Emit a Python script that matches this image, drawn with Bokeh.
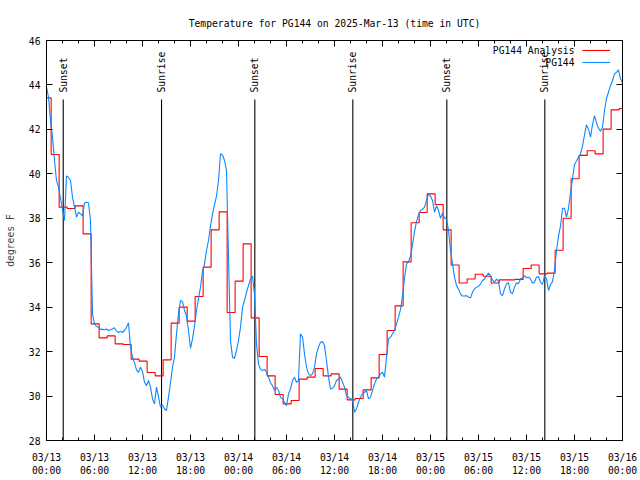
import numpy as np
from bokeh.plotting import figure
from bokeh.models import (FixedTicker, LinearAxis, Range1d, Legend, LegendItem, Label)
from bokeh.embed import file_html
from bokeh.resources import INLINE
from bokeh.core.properties import value

FONT = "DejaVu Sans Mono"
FS = "9.7px"

# PG144 observations, every 15 min from 03/13 00:00 UTC (degrees F)
pg144_obs = [
    43.9, 43.45, 42.4, 41.65,
    40.6, 39.7, 39.4, 38.9,
    38.4, 37.9, 39.9, 39.85,
    39.7, 38.95, 38.5, 38.05,
    38.27, 38.2, 38.1, 38.68,
    38.72, 38.7, 37.9, 33.7,
    33.25, 33.13, 33.1, 33.0,
    33.0, 32.98, 33.02, 32.95,
    32.98, 33.02, 33.07, 32.92,
    32.86, 32.92, 32.86, 32.95,
    33.1, 33.3, 32.2, 31.75,
    31.5, 31.18, 31.07, 31.3,
    31.1, 30.62, 30.47, 30.7,
    30.4, 29.87, 29.65, 30.4,
    29.95, 29.5, 29.6, 29.43,
    29.35, 29.95, 30.6, 31.3,
    31.75, 32.8, 33.7, 34.3,
    34.25, 33.85, 33.6, 32.95,
    32.15, 32.57, 33.15, 33.85,
    34.4, 34.9, 35.6, 35.95,
    36.55, 37.0, 37.65, 38.2,
    38.6, 39.0, 39.7, 40.9,
    40.85, 40.6, 40.15, 36.25,
    32.5, 31.75, 31.7, 32.05,
    32.5, 33.1, 34.0, 34.3,
    34.67, 34.97, 35.27, 35.4,
    34.6, 32.35, 31.45, 31.2,
    31.15, 31.2, 31.07, 30.85,
    30.6, 30.47, 30.25, 30.4,
    30.25, 29.95, 29.87, 29.72,
    29.57, 30.1, 30.32, 30.7,
    30.85, 30.62, 30.7, 32.8,
    32.65, 31.9, 31.3, 31.0,
    30.92, 31.0, 31.3, 31.9,
    32.2, 32.42, 32.45, 32.27,
    31.6, 30.85, 30.32, 30.35,
    30.47, 30.7, 30.77, 30.85,
    30.62, 30.4, 30.02, 29.95,
    29.87, 29.87, 29.27, 29.42,
    29.72, 29.95, 30.1, 30.17,
    30.25, 29.87, 29.95, 30.25,
    30.55, 30.77, 30.85, 31.0,
    31.07, 30.85, 31.75, 32.57,
    32.65, 32.8, 32.95, 33.25,
    33.55, 33.9, 34.5, 35.3,
    35.95, 36.05, 36.3, 36.8,
    37.4, 37.85, 38.15, 38.35,
    38.4, 38.5, 38.8, 39.1,
    39.0, 38.8, 38.27, 38.57,
    38.35, 38.0, 38.23, 38.0,
    37.97, 37.45, 36.55, 35.95,
    35.35, 34.97, 34.82, 34.6,
    34.5, 34.5, 34.52, 34.45,
    34.42, 34.67, 34.82, 34.9,
    34.93, 35.05, 35.2, 35.27,
    35.42, 35.53, 35.42, 35.23,
    35.12, 35.26, 35.17, 34.6,
    34.52, 34.82, 35.05, 35.1,
    34.67, 34.6, 34.9, 35.1,
    35.05, 35.27, 35.32, 35.42,
    35.32, 35.35, 35.27, 35.08,
    35.12, 35.35, 35.38, 35.12,
    35.02, 35.42, 35.27, 34.75,
    35.02, 35.15, 35.68, 36.55,
    37.2, 37.65, 38.45, 38.45,
    38.05, 38.45, 39.15, 39.77,
    40.42, 40.58, 40.75, 40.9,
    41.25, 41.75, 42.2, 42.0,
    41.65, 42.2, 42.62, 42.3,
    42.05, 41.92, 42.1, 42.85,
    43.4, 43.67, 43.97, 44.2,
    44.5, 44.57, 44.68, 44.27,
    44.12,
]
obs_hours = np.arange(len(pg144_obs)) * 0.25

# PG144 Analysis, hourly values (held as steps)
pg144_analysis = [
    43.42, 40.87, 38.50, 38.44, 38.56, 37.30, 33.25, 32.62, 32.71, 32.35,
    32.32, 31.66, 31.57, 31.06, 30.91, 31.63, 33.28, 34.00, 33.37, 34.48,
    35.80, 37.48, 38.29, 33.76, 35.17, 36.85, 33.52, 31.78, 30.91, 30.07,
    29.65, 29.80, 30.76, 30.85, 31.24, 30.91, 31.00, 30.31, 29.83, 29.89,
    30.28, 30.82, 31.87, 32.95, 34.06, 36.04, 37.80, 38.26, 39.10, 38.62,
    37.48, 35.90, 35.09, 35.27, 35.48, 35.39, 35.09, 35.23, 35.23, 35.25,
    35.74, 35.90, 35.50, 35.53, 36.56, 38.00, 39.78, 40.83, 41.04, 40.90,
    42.01, 42.88, 42.94,
]
analysis_hours = [0.0] + [k + 0.58 for k in range(72)] + [72.0]
analysis_vals = pg144_analysis + [pg144_analysis[-1]]

# Sun events (hours since 03/13 00:00 UTC)
event_hours = [2.09, 14.38, 26.04, 38.29, 50.04, 62.29]
event_names = ["Sunset", "Sunrise", "Sunset", "Sunrise", "Sunset", "Sunrise"]

x_ticks = [0, 6, 12, 18, 24, 30, 36, 42, 48, 54, 60, 66, 72]
x_minor = list(range(0, 73, 2))
tick_dates = ["03/13", "03/13", "03/13", "03/13", "03/14", "03/14", "03/14",
              "03/14", "03/15", "03/15", "03/15", "03/15", "03/16"]
tick_times = ["00:00", "06:00", "12:00", "18:00", "00:00", "06:00", "12:00",
              "18:00", "00:00", "06:00", "12:00", "18:00", "00:00"]
y_ticks = [28, 30, 32, 34, 36, 38, 40, 42, 44, 46]
title_text = "Temperature for PG144 on 2025-Mar-13 (time in UTC)"

p = figure(width=640, height=480, output_backend="svg", toolbar_location=None,
           x_range=Range1d(0, 72), y_range=Range1d(28, 46),
           x_axis_location=None, y_axis_location=None,
           min_border_left=46, min_border_right=18, min_border_top=40,
           min_border_bottom=40)
p.background_fill_color = "white"
p.border_fill_color = "white"
p.outline_line_color = "black"
p.outline_line_width = 1
p.grid.visible = False

p.title.text = title_text
p.title.align = "center"
p.title.text_font = FONT
p.title.text_font_size = FS
p.title.text_font_style = "normal"
p.title.text_color = "black"
p.title.standoff = 23


def style_axis(ax):
    ax.axis_line_color = "black"
    ax.major_tick_line_color = "black"
    ax.minor_tick_line_color = "black"
    ax.major_tick_in = 6
    ax.major_tick_out = 0
    ax.minor_tick_in = 3
    ax.minor_tick_out = 0
    ax.major_label_text_font = FONT
    ax.major_label_text_font_size = FS
    ax.major_label_text_color = "black"
    ax.axis_label_standoff = 0


yl = LinearAxis(ticker=FixedTicker(ticks=y_ticks, minor_ticks=[]), axis_label="degrees F")
style_axis(yl)
yl.major_label_standoff = 6
yl.axis_label_text_font = FONT
yl.axis_label_text_font_size = FS
yl.axis_label_text_font_style = "normal"
yl.axis_label_standoff = 10
p.add_layout(yl, "left")

yr = LinearAxis(ticker=FixedTicker(ticks=y_ticks, minor_ticks=[]),
                major_label_overrides={t: "" for t in y_ticks})
style_axis(yr)
yr.major_label_standoff = 0
p.add_layout(yr, "right")

xb1 = LinearAxis(ticker=FixedTicker(ticks=x_ticks, minor_ticks=x_minor),
                 major_label_overrides={t: d for t, d in zip(x_ticks, tick_dates)})
style_axis(xb1)
xb1.major_label_standoff = 11
p.add_layout(xb1, "below")

xb2 = LinearAxis(ticker=FixedTicker(ticks=x_ticks, minor_ticks=[]),
                 major_label_overrides={t: s for t, s in zip(x_ticks, tick_times)})
style_axis(xb2)
xb2.axis_line_alpha = 0
xb2.major_tick_in = 0
xb2.minor_tick_in = 0
xb2.major_label_standoff = -1
p.add_layout(xb2, "below")

xt = LinearAxis(ticker=FixedTicker(ticks=x_ticks, minor_ticks=x_minor),
                major_label_overrides={t: "" for t in x_ticks})
style_axis(xt)
xt.major_label_standoff = 0
p.add_layout(xt, "above")

# sun event lines and labels
p.segment(x0=event_hours, x1=event_hours, y0=[28] * 6, y1=[43.35] * 6,
          line_color="black", line_width=1.1)
p.text(x=event_hours, y=[43.66] * 6, text=event_names, angle=np.pi / 2,
       text_align="left", text_baseline="middle", text_font=value(FONT),
       text_font_size=FS, text_color="black")

r_red = p.step(analysis_hours, analysis_vals, mode="after", line_color="#ff0000",
               line_width=1.1)
r_blue = p.line(obs_hours, pg144_obs, line_color="#0a88ff", line_width=1.1)

legend = Legend(items=[LegendItem(label=" ", renderers=[r_red]),
                       LegendItem(label=" ", renderers=[r_blue])],
                location=(536, 372), glyph_width=28, glyph_height=12,
                spacing=0, padding=0, margin=0, label_standoff=0, label_width=0,
                label_height=12, label_text_font_size="1px",
                border_line_alpha=0, background_fill_alpha=0)
p.add_layout(legend, "center")

for txt, yy in [("PG144 Analysis", 390), ("PG144", 378)]:
    p.add_layout(Label(x=528, y=yy, x_units="screen", y_units="screen", text=txt,
                       text_align="right", text_baseline="middle",
                       text_font=FONT, text_font_size=FS, text_color="black"))

open("out.html", "w").write(file_html(p, INLINE))
